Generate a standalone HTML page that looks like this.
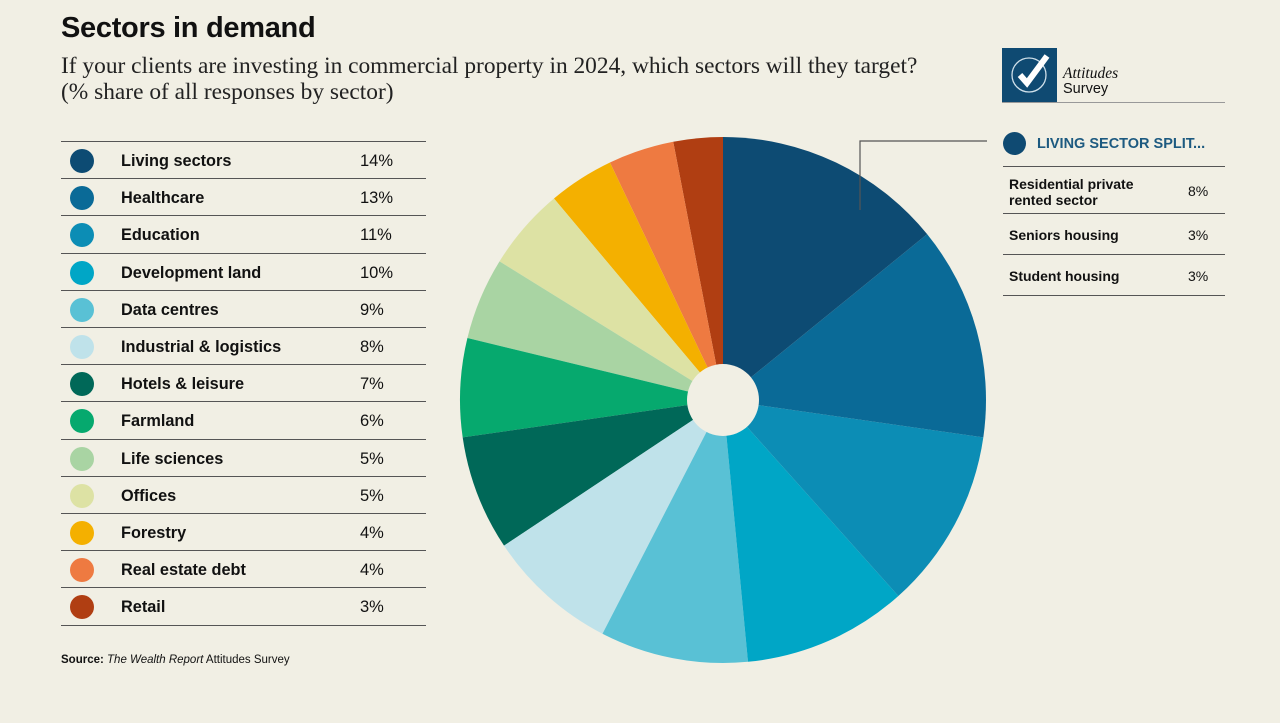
<!DOCTYPE html>
<html><head><meta charset="utf-8"><style>
body{margin:0;background:#f1efe4;font-family:"Liberation Sans",sans-serif;color:#111;}
#wrap{position:relative;width:1280px;height:723px;overflow:hidden;}
.abs{position:absolute;}
h1{position:absolute;left:61px;top:12px;margin:0;font-size:29px;font-weight:bold;letter-spacing:-0.3px;}
.sub{left:61px;top:53px;font-family:"Liberation Serif",serif;font-size:23.4px;line-height:26px;color:#222;white-space:nowrap;}
.row{position:absolute;left:61px;width:365px;height:37px;border-top:1.3px solid #555;}
.row .dot{position:absolute;left:9px;top:7px;width:24px;height:24px;border-radius:50%;}
.row .lab{position:absolute;left:60px;top:10px;font-size:16.3px;font-weight:bold;}
.row .val{position:absolute;left:299px;top:10px;font-size:16.5px;}
.srow{position:absolute;left:1003px;width:222px;border-top:1.3px solid #555;font-size:14px;font-weight:bold;}
</style></head><body><div id="wrap">
<h1>Sectors in demand</h1>
<div class="abs sub">If your clients are investing in commercial property in 2024, which sectors will they target?<br>(% share of all responses by sector)</div>
<div id="legend"></div>
<div class="abs" style="left:61px;top:654px;font-size:11.5px;"><b>Source:</b> <i>The Wealth Report</i> Attitudes Survey</div>

<div class="abs" style="left:1002px;top:48px;width:55px;height:55px;background:#0f4a72;">
<svg width="55" height="55"><circle cx="27" cy="27" r="17" fill="none" stroke="#cfe0ea" stroke-width="1.3"/><path d="M18 27 L25 35 L45 8" fill="none" stroke="#fff" stroke-width="6"/></svg></div>
<div class="abs" style="left:1063px;top:65px;font-family:'Liberation Serif',serif;font-style:italic;font-size:15.5px;">Attitudes</div>
<div class="abs" style="left:1063px;top:81px;font-size:14.5px;">Survey</div>
<div class="abs" style="left:1002px;top:102px;width:223px;border-top:1px solid #999;"></div>

<div class="abs" style="left:1003px;top:132px;width:23px;height:23px;border-radius:50%;background:#0f4a72;"></div>
<div class="abs" style="left:1037px;top:136px;font-size:14.5px;font-weight:bold;color:#1d5a80;">LIVING SECTOR SPLIT...</div>
<div class="srow" style="top:166px;height:47px;"><div class="abs" style="left:6px;top:9px;line-height:16px;">Residential private<br>rented sector</div><div class="abs" style="left:185px;top:16px;font-weight:normal;">8%</div></div>
<div class="srow" style="top:213px;height:40px;"><div class="abs" style="left:6px;top:13px;">Seniors housing</div><div class="abs" style="left:185px;top:13px;font-weight:normal;">3%</div></div>
<div class="srow" style="top:254px;height:40px;border-bottom:1.3px solid #555;"><div class="abs" style="left:6px;top:13px;">Student housing</div><div class="abs" style="left:185px;top:13px;font-weight:normal;">3%</div></div>

<svg id="pie" class="abs" style="left:0;top:0" width="1280" height="723">
<polyline points="860,210 860,141 987,141" fill="none" stroke="#555" stroke-width="1.2"/>
</svg>
</div>
<script>
const categories=["Living sectors","Healthcare","Education","Development land","Data centres","Industrial & logistics","Hotels & leisure","Farmland","Life sciences","Offices","Forestry","Real estate debt","Retail"];
const values=[14,13,11,10,9,8,7,6,5,5,4,4,3];
const colors=["#0d4b73","#0a6a97","#0c8db5","#00a6c6","#59c1d5","#bfe2ea","#006858","#06a96e","#a9d4a3","#dde2a4","#f4b000","#ee7a41","#b03e12"];
const legend=document.getElementById('legend');
categories.forEach((c,i)=>{
  const r=document.createElement('div');r.className='row';r.style.top=(141+i*37.2)+'px';
  if(i===categories.length-1)r.style.borderBottom='1.3px solid #555';
  
  
  r.innerHTML='<div class="dot" style="background:'+colors[i]+'"></div><div class="lab">'+c.replace('&','&amp;')+'</div><div class="val">'+values[i]+'%</div>';
  legend.appendChild(r);
});
const svg=document.getElementById('pie');const NS='http://www.w3.org/2000/svg';
const cx=723,cy=400,R=263,r0=36;
const total=values.reduce((a,b)=>a+b,0);
let a=0;
function pt(ang,rad){return [cx+rad*Math.sin(ang),cy-rad*Math.cos(ang)];}
values.forEach((v,i)=>{
  const a1=a+v/total*2*Math.PI;
  const p0=pt(a,R),p1=pt(a1,R);
  const large=(a1-a)>Math.PI?1:0;
  const p=document.createElementNS(NS,'path');
  p.setAttribute('d',`M${cx},${cy} L${p0[0]},${p0[1]} A${R},${R} 0 ${large} 1 ${p1[0]},${p1[1]} Z`);
  p.setAttribute('fill',colors[i]);
  
  
  svg.insertBefore(p,svg.firstChild);
  a=a1;
});
const h=document.createElementNS(NS,'circle');h.setAttribute('cx',cx);h.setAttribute('cy',cy);h.setAttribute('r',r0);h.setAttribute('fill','#f1efe4');


svg.insertBefore(h,svg.querySelector('polyline'));
</script>
</body></html>
